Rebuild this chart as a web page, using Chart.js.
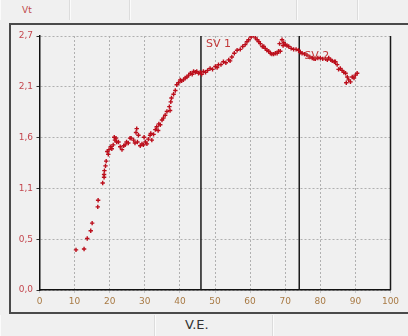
<!DOCTYPE html>
<html>
<head>
<meta charset="utf-8">
<script src="https://cdn.jsdelivr.net/npm/chart.js@4.4.0/dist/chart.umd.min.js"></script>
<style>
html, body { margin: 0; padding: 0; background: #f0f0f0; }
#wrap { position: relative; width: 408px; height: 336px; overflow: hidden; font-family: "DejaVu Sans", sans-serif; }
.cell { position: absolute; box-sizing: border-box; border-left: 1px solid #fbfbfb; border-right: 1px solid #dcdcdc; }
#panel { position: absolute; left: 9px; top: 23px; width: 420px; height: 291px; box-sizing: border-box;
         border-top: 2px solid #4a4a4a; border-left: 2px solid #4a4a4a; border-bottom: 2px solid #4a4a4a; }
#vt { position: absolute; left: 22px; top: 5px; font-size: 9px; color: #c04a4a; }
#ve { position: absolute; left: 185px; top: 317px; font-size: 13px; color: #333; }
#box { position: absolute; left: 0; top: 0; width: 408px; height: 336px; }
</style>
</head>
<body>
<div id="wrap">
  <div class="cell" style="left:0;top:0;width:70px;height:20px"></div>
  <div class="cell" style="left:70px;top:0;width:60px;height:20px"></div>
  <div class="cell" style="left:130px;top:0;width:167px;height:20px"></div>
  <div class="cell" style="left:297px;top:0;width:61px;height:20px"></div>
  <div class="cell" style="left:358px;top:0;width:60px;height:20px"></div>
  <div class="cell" style="left:0;top:315px;width:155px;height:21px"></div>
  <div class="cell" style="left:155px;top:315px;width:118px;height:21px"></div>
  <div class="cell" style="left:273px;top:315px;width:140px;height:21px"></div>
  <div id="vt">Vt</div>
  <div id="panel"></div>
  <div id="ve">V.E.</div>
  <div id="box"><canvas id="chart"></canvas></div>
</div>
<script>
// V.E. (x) and Vt (y) readings
const veValues = [10.4, 12.7, 13.6, 14.6, 15.0, 16.6, 16.7, 18.0, 18.4, 18.4, 18.5, 18.8, 19.0, 19.3, 19.6, 19.8,
  20.3, 20.6, 21.0, 21.3, 21.5, 21.8, 22.0, 22.5, 23.0, 23.5, 24.0, 24.4, 24.8, 25.3, 25.8, 26.1, 26.8, 27.2,
  27.5, 27.7, 27.9, 28.2, 28.7, 29.2, 29.6, 29.8, 30.2, 30.6, 31.0, 31.5, 31.7, 32.0, 32.5, 33.0, 33.4, 33.8,
  34.0, 34.4, 34.9, 35.3, 35.8, 36.3, 37.0, 37.2, 37.4, 37.6, 38.2, 38.7, 39.1, 39.6, 40.1, 40.5, 41.0, 41.5,
  42.0, 42.5, 43.0, 43.5, 43.9, 44.4, 44.8, 45.3, 45.8, 46.2, 46.7, 47.3, 47.9, 48.6, 49.3, 50.1, 50.6, 51.0,
  51.7, 52.4, 53.1, 53.9, 54.3, 54.8, 55.5, 56.3, 57.2, 57.9, 58.6, 59.1, 59.6, 60.3, 61.0, 61.5, 62.0, 62.5,
  62.9, 63.5, 63.9, 64.3, 64.8, 65.3, 65.8, 66.2, 66.7, 67.2, 67.7, 68.1, 68.4, 68.6, 69.1, 69.4, 69.6, 70.0,
  70.5, 71.0, 71.7, 72.4, 73.1, 73.8, 74.3, 74.8, 75.5, 76.2, 77.0, 77.7, 78.2, 78.6, 79.3, 80.0, 80.7, 81.5,
  82.0, 82.4, 83.0, 83.4, 84.0, 84.3, 84.8, 85.2, 85.7, 86.2, 86.7, 87.2, 87.4, 87.7, 88.1, 88.6, 89.1, 89.6,
  90.0, 90.5];
const vtValues = [0.42, 0.43, 0.54, 0.62, 0.70, 0.87, 0.94, 1.12, 1.18, 1.21, 1.25, 1.30, 1.35, 1.45, 1.42, 1.47,
  1.50, 1.48, 1.52, 1.60, 1.57, 1.59, 1.55, 1.55, 1.50, 1.47, 1.51, 1.52, 1.55, 1.54, 1.59, 1.59, 1.57, 1.54,
  1.65, 1.69, 1.55, 1.62, 1.51, 1.53, 1.52, 1.60, 1.55, 1.53, 1.58, 1.62, 1.64, 1.57, 1.63, 1.68, 1.71, 1.67,
  1.74, 1.73, 1.78, 1.80, 1.83, 1.87, 1.92, 1.88, 1.97, 2.01, 2.05, 2.09, 2.15, 2.17, 2.20, 2.19, 2.20, 2.22,
  2.23, 2.25, 2.27, 2.26, 2.29, 2.28, 2.29, 2.27, 2.28, 2.26, 2.29, 2.28, 2.30, 2.32, 2.31, 2.34, 2.33, 2.36,
  2.36, 2.39, 2.38, 2.41, 2.40, 2.44, 2.48, 2.51, 2.52, 2.55, 2.57, 2.60, 2.62, 2.65, 2.67, 2.64, 2.62, 2.60,
  2.58, 2.55, 2.55, 2.53, 2.51, 2.50, 2.48, 2.47, 2.47, 2.48, 2.48, 2.50, 2.58, 2.50, 2.62, 2.56, 2.59, 2.57,
  2.56, 2.55, 2.53, 2.52, 2.52, 2.51, 2.49, 2.48, 2.47, 2.46, 2.44, 2.43, 2.42, 2.42, 2.43, 2.43, 2.42, 2.42,
  2.41, 2.43, 2.41, 2.40, 2.39, 2.39, 2.36, 2.31, 2.32, 2.30, 2.28, 2.27, 2.17, 2.23, 2.20, 2.18, 2.23, 2.22,
  2.25, 2.27];

const yTickValues = [0, 0.532, 1.064, 1.596, 2.128, 2.66];
const yTickLabels = ['0,0', '0,5', '1,1', '1,6', '2,1', '2,7'];

// threshold markers
const svValues = [46, 74];
const svLabels = ['SV 1', 'SV 2'];
const svLabelVt = [2.575, 2.45];

const Y_MAX = 2.66;

const points = veValues.map((v, i) => ({ x: v, y: vtValues[i] }));

const svDatasets = svValues.map(v => ({
    type: 'line',
    data: [{ x: v, y: 0 }, { x: v, y: Y_MAX }],
    borderColor: '#1a1a1a',
    borderWidth: 1.5,
    pointRadius: 0,
    showLine: true
}));

const svLabelPlugin = {
    id: 'svLabels',
    afterDatasetsDraw(chart) {
        const { ctx, chartArea, scales } = chart;
        ctx.save();
        // right edge of the plot frame
        ctx.strokeStyle = '#1a1a1a';
        ctx.lineWidth = 1.5;
        ctx.beginPath();
        ctx.moveTo(chartArea.right, chartArea.top);
        ctx.lineTo(chartArea.right, chartArea.bottom);
        ctx.stroke();

        ctx.fillStyle = '#c23a3a';
        ctx.font = '11px "DejaVu Sans", sans-serif';
        ctx.textBaseline = 'middle';
        svLabels.forEach((t, i) => {
            ctx.fillText(t, scales.x.getPixelForValue(svValues[i]) + 5, scales.y.getPixelForValue(svLabelVt[i]));
        });
        ctx.restore();
    }
};

const ctx = document.querySelector('#chart').getContext('2d');

new Chart(ctx, {
    type: 'scatter',
    data: {
        datasets: [{
            data: points,
            pointStyle: 'cross',
            pointRadius: 2.2,
            borderWidth: 1.4,
            borderColor: '#bc0f1c',
            backgroundColor: '#bc0f1c'
        }, ...svDatasets]
    },
    options: {
        responsive: true,
        maintainAspectRatio: false,
        animation: false,
        layout: { padding: { top: 36, right: 17.5, bottom: 26, left: 0 } },
        plugins: {
            legend: { display: false },
            tooltip: { enabled: false }
        },
        scales: {
            x: {
                type: 'linear',
                min: 0,
                max: 100,
                afterFit: s => { s.height = 20; },
                ticks: {
                    stepSize: 10,
                    maxRotation: 0,
                    padding: 3,
                    color: '#a87a44',
                    font: { family: 'DejaVu Sans', size: 9 }
                },
                grid: { color: '#b0b0b0', tickLength: 3, tickColor: '#c8c8c8' },
                border: { color: '#111', width: 1.5, dash: [2, 2] }
            },
            y: {
                min: 0,
                max: Y_MAX,
                afterFit: s => { s.width = 39.5; },
                afterBuildTicks: s => { s.ticks = yTickValues.map(v => ({ value: v })); },
                ticks: {
                    padding: 3.5,
                    color: '#c4474f',
                    font: { family: 'DejaVu Sans', size: 9 },
                    callback: (v, i) => yTickLabels[i]
                },
                grid: { color: '#b0b0b0', tickLength: 3, tickColor: '#333' },
                border: { color: '#111', width: 1.5, dash: [2, 2] }
            }
        }
    },
    plugins: [svLabelPlugin]
});
</script>
</body>
</html>
